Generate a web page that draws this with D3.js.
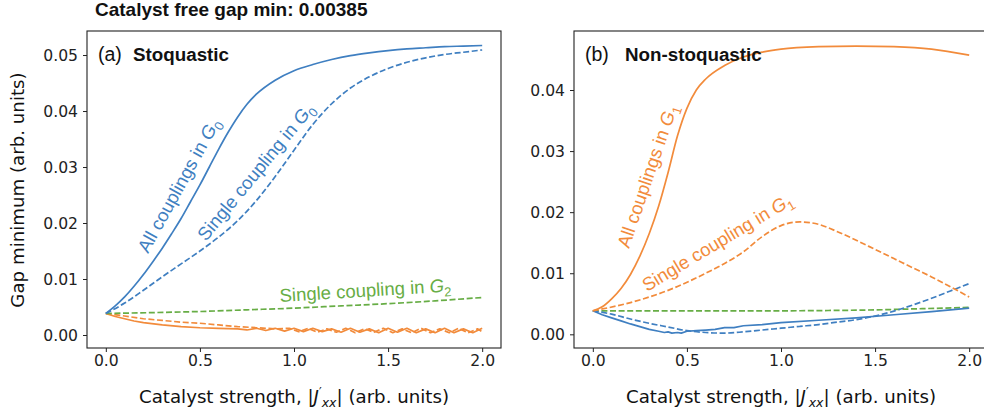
<!DOCTYPE html>
<html>
<head>
<meta charset="utf-8">
<script src="https://cdn.jsdelivr.net/npm/d3@7"></script>
<style>
  body { margin: 0; background: #fff; }
  svg { display: block; }
</style>
</head>
<body>
<svg id="chart" width="984" height="418"></svg>
<script>
// colours
const blue = "#3f7fc1";
const orange = "#f28b3b";
const green = "#67ad45";

const xTicks = [0, 0.5, 1.0, 1.5, 2.0];
const yTicksA = [0, 0.01, 0.02, 0.03, 0.04, 0.05];
const yTicksB = [0, 0.01, 0.02, 0.03, 0.04];

// (a) stoquastic, [strength, gap]
const aAllG0 = [[0, 0.00385], [0.05, 0.0052], [0.1, 0.0068], [0.15, 0.0087], [0.2, 0.0108], [0.25, 0.0131],
    [0.3, 0.0155], [0.35, 0.0181], [0.4, 0.0208], [0.45, 0.0238], [0.5, 0.0268], [0.55, 0.0300],
    [0.6, 0.0332], [0.65, 0.0362], [0.7, 0.0389], [0.75, 0.0412], [0.8, 0.0430], [0.9, 0.0455],
    [1.0, 0.0472], [1.1, 0.0483], [1.2, 0.0492], [1.3, 0.0499], [1.4, 0.0504], [1.5, 0.0508],
    [1.6, 0.0511], [1.7, 0.0513], [1.8, 0.0515], [1.9, 0.0516], [2.0, 0.0517]];
const aSingleG0 = [[0, 0.00385], [0.1, 0.0057], [0.2, 0.0080], [0.3, 0.0104], [0.4, 0.0127], [0.5, 0.0150],
    [0.6, 0.0175], [0.7, 0.0204], [0.8, 0.0240], [0.9, 0.0283], [1.0, 0.0330], [1.1, 0.0376],
    [1.2, 0.0413], [1.3, 0.0441], [1.4, 0.0461], [1.5, 0.0476], [1.6, 0.0487], [1.7, 0.0495],
    [1.8, 0.0501], [1.9, 0.0505], [2.0, 0.0509]];
const aSingleG2 = [[0, 0.00385], [0.25, 0.0040], [0.5, 0.0042], [0.75, 0.0045], [1.0, 0.0048],
    [1.25, 0.0052], [1.5, 0.0056], [1.75, 0.0061], [2.0, 0.0067]];
const aAllG1 = [[0, 0.00385], [0.05, 0.0033], [0.1, 0.0029], [0.15, 0.0025], [0.2, 0.0022], [0.3, 0.0018],
    [0.4, 0.0015], [0.5, 0.0013], [0.6, 0.0012], [0.7, 0.0011], [0.75, 0.0009], [0.8, 0.0012],
    [0.85, 0.0008], [0.9, 0.0012], [0.95, 0.0007], [1.0, 0.0012], [1.05, 0.0006], [1.1, 0.0012],
    [1.15, 0.0006], [1.2, 0.0011], [1.25, 0.0005], [1.3, 0.0012], [1.35, 0.0005], [1.4, 0.0011],
    [1.45, 0.0004], [1.5, 0.0012], [1.55, 0.0005], [1.6, 0.0012], [1.65, 0.0004], [1.7, 0.0011],
    [1.75, 0.0004], [1.8, 0.0012], [1.85, 0.0004], [1.9, 0.0011], [1.95, 0.0004], [2.0, 0.0012]];
const aSingleG1 = [[0, 0.00385], [0.1, 0.0034], [0.2, 0.0029], [0.3, 0.0026], [0.4, 0.0023], [0.5, 0.0021],
    [0.6, 0.0018], [0.7, 0.0015], [0.8, 0.0013], [0.9, 0.0011], [0.975, 0.0012], [1.025, 0.0006],
    [1.075, 0.0012], [1.125, 0.0005], [1.175, 0.0011], [1.225, 0.0005], [1.275, 0.0012], [1.325, 0.0004],
    [1.375, 0.0011], [1.425, 0.0005], [1.475, 0.0012], [1.525, 0.0004], [1.575, 0.0011], [1.625, 0.0004],
    [1.675, 0.0012], [1.725, 0.0004], [1.775, 0.0011], [1.825, 0.0004], [1.875, 0.0012], [1.925, 0.0004],
    [1.975, 0.0011], [2.0, 0.0006]];

// (b) non-stoquastic
const bAllG1 = [[0, 0.00385], [0.05, 0.0045], [0.1, 0.0058], [0.15, 0.0075], [0.2, 0.0098], [0.25, 0.0128],
    [0.3, 0.0165], [0.35, 0.0210], [0.4, 0.0265], [0.45, 0.0325], [0.5, 0.0370], [0.55, 0.0400],
    [0.6, 0.0418], [0.7, 0.0440], [0.8, 0.0454], [0.9, 0.0462], [1.0, 0.0467], [1.2, 0.0471],
    [1.4, 0.0472], [1.6, 0.0471], [1.8, 0.0467], [2.0, 0.0457]];
const bSingleG1 = [[0, 0.00385], [0.2, 0.0052], [0.4, 0.0072], [0.6, 0.0100], [0.7, 0.0116], [0.8, 0.0135],
    [0.9, 0.0160], [1.0, 0.0178], [1.1, 0.0184], [1.2, 0.0180], [1.3, 0.0168], [1.4, 0.0154],
    [1.5, 0.0139], [1.6, 0.0124], [1.7, 0.0109], [1.8, 0.0094], [1.9, 0.0078], [2.0, 0.0061]];
const bSingleG2 = [[0, 0.00385], [0.5, 0.00385], [1.0, 0.00385], [1.25, 0.0039], [1.5, 0.0040],
    [1.75, 0.0042], [2.0, 0.0044]];
const bAllG0 = [[0, 0.00385], [0.05, 0.0032], [0.1, 0.0027], [0.15, 0.0022], [0.2, 0.0017], [0.25, 0.00125],
    [0.3, 0.0008], [0.35, 0.0005], [0.38, 0.0003], [0.4, 0.0004], [0.42, 0.0002], [0.45, 0.0003],
    [0.47, 0.0002], [0.5, 0.0005], [0.55, 0.0006], [0.6, 0.0007], [0.65, 0.0008], [0.7, 0.0011],
    [0.75, 0.0011], [0.8, 0.0014], [0.9, 0.0016], [1.0, 0.0019], [1.2, 0.0023], [1.4, 0.0027],
    [1.6, 0.0032], [1.8, 0.0037], [2.0, 0.0043]];
const bSingleG0 = [[0, 0.00385], [0.1, 0.0033], [0.2, 0.0025], [0.3, 0.0018], [0.4, 0.0012], [0.5, 0.0006],
    [0.6, 0.0003], [0.7, 0.0002], [0.8, 0.0004], [0.9, 0.0007], [1.0, 0.0010], [1.1, 0.0013],
    [1.2, 0.0016], [1.3, 0.0020], [1.4, 0.0024], [1.5, 0.0030], [1.6, 0.0038], [1.7, 0.0048],
    [1.8, 0.0059], [1.9, 0.0071], [2.0, 0.0083]];

const labelFont = "'Liberation Sans', Arial, sans-serif";
const tickFont = "'DejaVu Sans', sans-serif";

const svg = d3.select("#chart");

svg.append("text")
    .attr("x", 95)
    .attr("y", 16)
    .style("font-family", labelFont)
    .style("font-weight", "bold")
    .style("font-size", "19px")
    .style("fill", "#111")
    .text("Catalyst free gap min: 0.00385");

// writes a label made of parts {t, it, sub}
function richText(g, x, y, angle, parts, color, size) {
    const t = g.append("text")
        .attr("transform", `translate(${x},${y}) rotate(${angle})`)
        .style("font-family", labelFont)
        .style("font-size", size + "px")
        .style("fill", color);
    let shift = 0;
    parts.forEach(p => {
        const target = p.sub ? size * 0.25 : 0;
        t.append("tspan")
            .attr("dy", target - shift)
            .style("font-style", p.it ? "italic" : "normal")
            .style("font-size", p.sub ? (size * 0.7) + "px" : null)
            .text(p.t);
        shift = target;
    });
    return t;
}

function drawPanel(opts) {
    const g = svg.append("g");
    const x = d3.scaleLinear().domain([-0.1, 2.1]).range([opts.left, opts.left + 414]);
    const y = d3.scaleLinear().domain(opts.yDomain).range([348, 31]);

    opts.series.forEach(s => {
        const line = d3.line()
            .x(d => x(d[0]))
            .y(d => y(d[1]))
            .curve(s.smooth ? d3.curveMonotoneX : d3.curveLinear);
        g.append("path")
            .datum(s.data)
            .attr("fill", "none")
            .attr("stroke", s.color)
            .attr("stroke-width", 1.7)
            .attr("stroke-dasharray", s.dashed ? "6,2.6" : null)
            .attr("stroke-linejoin", "round")
            .attr("d", line);
    });

    // frame
    g.append("rect")
        .attr("x", opts.left)
        .attr("y", 31)
        .attr("width", 414)
        .attr("height", 317)
        .attr("fill", "none")
        .attr("stroke", "#222")
        .attr("stroke-width", 1.1);

    const xAxis = g.append("g")
        .attr("transform", "translate(0,348)")
        .call(d3.axisBottom(x).tickValues(xTicks).tickFormat(d3.format(".1f")).tickSize(4).tickPadding(3));
    const yAxis = g.append("g")
        .attr("transform", `translate(${opts.left},0)`)
        .call(d3.axisLeft(y).tickValues(opts.yTicks).tickFormat(d3.format(".2f")).tickSize(4).tickPadding(5));

    [xAxis, yAxis].forEach(a => {
        a.select(".domain").remove();
        a.selectAll(".tick line").attr("stroke", "#222").attr("stroke-width", 1);
        a.selectAll(".tick text")
            .style("font-family", tickFont)
            .style("font-size", "15.6px")
            .style("fill", "#222");
    });

    // x label
    const xl = g.append("text")
        .attr("x", opts.left + 207)
        .attr("y", 403)
        .attr("text-anchor", "middle")
        .style("font-family", tickFont)
        .style("font-size", "18.2px")
        .style("fill", "#111");
    xl.append("tspan").text("Catalyst strength, |");
    xl.append("tspan").style("font-style", "italic").text("J");
    xl.append("tspan").attr("dy", -7).style("font-size", "12px").text("\u2032");
    xl.append("tspan").attr("dy", 11).style("font-style", "italic").style("font-size", "12.5px").text("xx");
    xl.append("tspan").attr("dy", -4).text("| (arb. units)");

    // panel tag
    g.append("text")
        .attr("x", opts.left + 11)
        .attr("y", 61)
        .style("font-family", labelFont)
        .style("font-size", "19.5px")
        .style("fill", "#111")
        .text(opts.tag);
    g.append("text")
        .attr("x", opts.left + opts.titleDx)
        .attr("y", 61)
        .style("font-family", labelFont)
        .style("font-weight", "bold")
        .style("font-size", "18.8px")
        .style("fill", "#111")
        .text(opts.title);

    opts.notes.forEach(n => {
        richText(g, n.x, n.y, n.angle, n.parts, n.color, 18.5);
    });

    return g;
}

drawPanel({
    left: 87,
    yDomain: [-0.00232, 0.05429],
    yTicks: yTicksA,
    tag: "(a)",
    title: "Stoquastic",
    titleDx: 46,
    series: [
        { data: aAllG1, color: orange, dashed: false },
        { data: aSingleG1, color: orange, dashed: true },
        { data: aSingleG2, color: green, dashed: true, smooth: true },
        { data: aSingleG0, color: blue, dashed: true, smooth: true },
        { data: aAllG0, color: blue, dashed: false, smooth: true }
    ],
    notes: [
        { x: 148, y: 254, angle: -61, color: blue,
          parts: [{ t: "All couplings in " }, { t: "G", it: true }, { t: "0", sub: true }] },
        { x: 206, y: 242, angle: -50.5, color: blue,
          parts: [{ t: "Single coupling in " }, { t: "G", it: true }, { t: "0", sub: true }] },
        { x: 280, y: 302, angle: -3.5, color: green,
          parts: [{ t: "Single coupling in " }, { t: "G", it: true }, { t: "2", sub: true }] }
    ]
});

drawPanel({
    left: 574,
    yDomain: [-0.00224, 0.04966],
    yTicks: yTicksB,
    tag: "(b)",
    title: "Non-stoquastic",
    titleDx: 51,
    series: [
        { data: bSingleG2, color: green, dashed: true, smooth: true },
        { data: bAllG0, color: blue, dashed: false },
        { data: bSingleG0, color: blue, dashed: true, smooth: true },
        { data: bSingleG1, color: orange, dashed: true, smooth: true },
        { data: bAllG1, color: orange, dashed: false, smooth: true }
    ],
    notes: [
        { x: 629, y: 249, angle: -71, color: orange,
          parts: [{ t: "All couplings in " }, { t: "G", it: true }, { t: "1", sub: true }] },
        { x: 647, y: 292, angle: -31, color: orange,
          parts: [{ t: "Single coupling in " }, { t: "G", it: true }, { t: "1", sub: true }] }
    ]
});

// y label
svg.append("text")
    .attr("transform", "translate(24,190) rotate(-90)")
    .attr("text-anchor", "middle")
    .style("font-family", tickFont)
    .style("font-size", "18.2px")
    .style("fill", "#111")
    .text("Gap minimum (arb. units)");
</script>
</body>
</html>
